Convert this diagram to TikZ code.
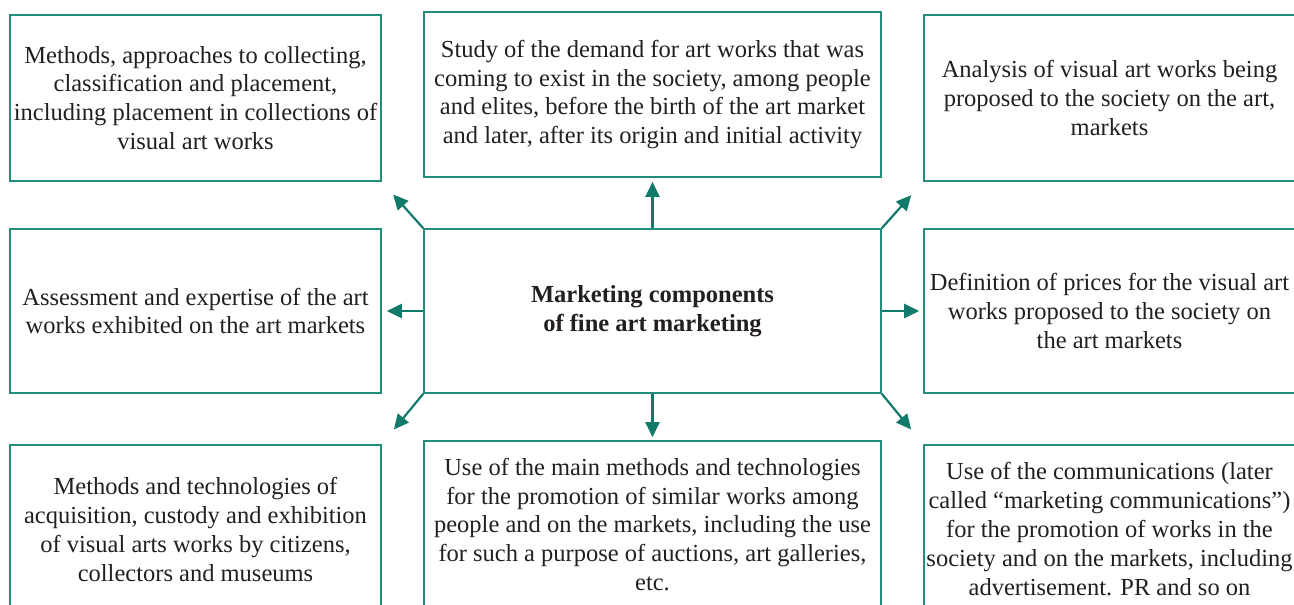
\documentclass[tikz,border=0pt]{standalone}
\usepackage{fontspec}
\setmainfont{Liberation Serif}
\usepackage{tikz}
\usetikzlibrary{arrows.meta}
\definecolor{boxline}{RGB}{38,140,124}
\definecolor{arrowcol}{RGB}{18,122,106}
\definecolor{txt}{RGB}{35,31,32}

\begin{document}
\begin{tikzpicture}[x=1pt, y=-1pt,
  every node/.style = {shape=rectangle, draw=boxline, line width=1.6pt,
    align=center, inner sep=0pt, text=txt,
    font=\fontsize{24.5}{28.8}\selectfont},
  side/.style = {minimum width=371pt},
  mid/.style = {minimum width=457pt},
  arr/.style = {draw=arrowcol, line width=2.2pt,
    -{Triangle[length=15pt,width=14pt]}}]
  \useasboundingbox (0,0) rectangle (1294,605);
  \clip (0,0) rectangle (1294,605);
  % top row
  \node[side, minimum height=166pt] (meth) at (195.5,98)
    {Methods, approaches to collecting,\\ classification and placement,\\
     including placement in collections of\\ visual art works};
  \node[mid, minimum height=165pt] (demand) at (652.5,94.5)
    {Study of the demand for art works that was\\ coming to exist in the society, among people\\
     and elites, before the birth of the art market\\ and later, after its origin and initial activity};
  \node[side, minimum height=166pt] (analysis) at (1109.5,98)
    {Analysis of visual art works being\\ proposed to the society on the art,\\ markets};
  % middle row
  \node[side, minimum height=164pt] (assess) at (195.5,311)
    {Assessment and expertise of the art\\ works exhibited on the art markets};
  \node[mid, minimum height=164pt] (core) at (652.5,311)
    {\bfseries Marketing components\\ \bfseries of fine art marketing};
  \node[side, minimum height=164pt] (prices) at (1109.5,311)
    {Definition of prices for the visual art\\ works proposed to the society on\\ the art markets};
  % bottom row
  \node[side, minimum height=169pt] (acq) at (195.5,529.5)
    {Methods and technologies of\\ acquisition, custody and exhibition\\
     of visual arts works by citizens,\\ collectors and museums};
  \node[mid, minimum height=167pt] (promo) at (652.5,524.5)
    {Use of the main methods and technologies\\ for the promotion of similar works among\\
     people and on the markets, including the use\\ for such a purpose of auctions, art galleries,\\ etc.};
  \node[side, minimum height=168pt] (comm) at (1109.5,529)
    {Use of the communications (later\\ called ``marketing communications'')\\
     for the promotion of works in the\\ society and on the markets, including\\ advertisement. PR and so on};
  % arrows
  \draw[arr, shorten >=17pt] (core.north west) -- (meth.south east);
  \draw[arr, shorten >=4pt] (core.north) -- (demand.south);
  \draw[arr, shorten >=18pt] (core.north east) -- (analysis.south west);
  \draw[arr, shorten >=5pt] (core.west) -- (assess.east);
  \draw[arr, shorten >=4pt] (core.east) -- (prices.west);
  \draw[arr, shorten >=19pt] (core.south west) -- (acq.north east);
  \draw[arr, shorten >=3pt] (core.south) -- (promo.north);
  \draw[arr, shorten >=19pt] (core.south east) -- (comm.north west);
\end{tikzpicture}
\end{document}
